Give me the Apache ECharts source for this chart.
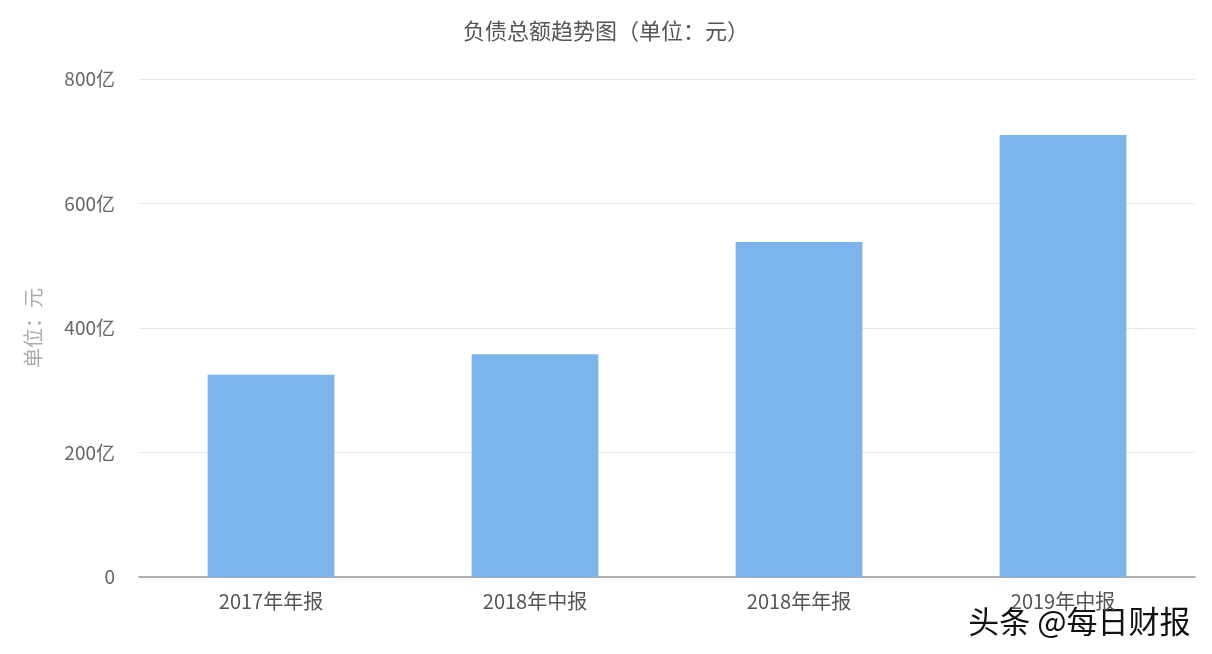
<!DOCTYPE html>
<html><head><meta charset="utf-8">
<script src="https://cdn.jsdelivr.net/npm/echarts@6/dist/echarts.min.js"></script>
<style>html,body{margin:0;padding:0;background:#fff}#c{width:1212px;height:654px}</style>
</head><body><div id="c"></div>
<script>
var categories = ['2017年年报','2018年中报','2018年年报','2019年中报'];
var debtValues = [325, 358, 538, 710];
var yTicks = [0, 200, 400, 600, 800];
var chart = echarts.init(document.getElementById('c'));
var font = '"Noto Sans CJK SC", "Microsoft YaHei", sans-serif';
chart.setOption({
  animation: false,
  title: { text: '负债总额趋势图（单位：元）', left: 'center', top: 15,
    textStyle: { fontSize: 22, fontWeight: 'normal', color: '#555', fontFamily: font } },
  grid: { left: 139, right: 17, top: 79, bottom: 77 },
  xAxis: { type: 'category', data: categories,
    axisLine: { lineStyle: { color: '#999', width: 1.5 } },
    axisTick: { alignWithLabel: true, length: 6, lineStyle: { color: '#999' } },
    axisLabel: { fontSize: 20, color: '#555', margin: 14, fontFamily: font } },
  yAxis: { type: 'value', min: 0, max: 800, interval: 200,
    name: '单位：元', nameLocation: 'middle', nameGap: 96, nameRotate: 90,
    nameTextStyle: { color: '#aaa', fontSize: 20, fontFamily: font },
    axisLine: { show: false }, axisTick: { show: false },
    splitLine: { lineStyle: { color: '#e6e6e6' } },
    axisLabel: { fontSize: 19, color: '#666', margin: 24, fontFamily: font,
      formatter: function (v) { return yTicks.indexOf(v) > 0 ? v + '亿' : '' + v; } } },
  series: [{ type: 'bar', data: debtValues, barWidth: '48%',
    itemStyle: { color: '#7cb5ec' } }],
  graphic: [{ type: 'text', right: 20, bottom: 16,
    style: { text: '头条 @每日财报', fontSize: 31, fill: '#111', fontFamily: font,
      stroke: '#fff', lineWidth: 3 } }]
});
</script></body></html>
